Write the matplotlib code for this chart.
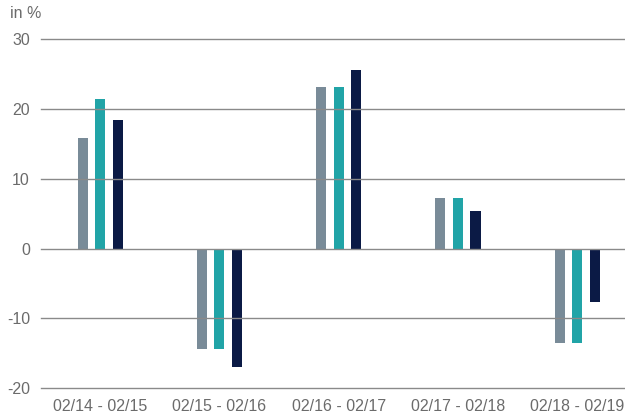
import numpy as np
import matplotlib
matplotlib.use('Agg')
import matplotlib.pyplot as plt

# --- dados ---
periodos = ['02/14 - 02/15', '02/15 - 02/16', '02/16 - 02/17', '02/17 - 02/18', '02/18 - 02/19']
serie_cinza = [15.8, -14.4, 23.2, 7.3, -13.5]
serie_turquesa = [21.4, -14.4, 23.2, 7.3, -13.5]
serie_azul = [18.4, -16.9, 25.5, 5.4, -7.7]
y_ticks = [-20, -10, 0, 10, 20, 30]

cores = ['#798b98', '#21a4a7', '#0b1a45']
texto_cor = '#6b6b6b'

plt.rcParams['font.family'] = ['Liberation Sans', 'DejaVu Sans']
plt.rcParams['axes.unicode_minus'] = False

fig = plt.figure(figsize=(6.25, 4.19), dpi=100)
ax = fig.add_axes([41 / 625, 1 - 388.3 / 419, 1 - 41 / 625, (388.3 - 39) / 419])

x = np.arange(len(periodos))
desloc = 0.147
largura = 0.084
for i, (serie, cor) in enumerate(zip([serie_cinza, serie_turquesa, serie_azul], cores)):
    ax.bar(x + (i - 1) * desloc, serie, width=largura, color=cor, zorder=2)

ax.set_ylim(-20, 30)
ax.set_xlim(-0.495, 4.4)
ax.set_yticks(y_ticks)
ax.set_xticks(x)
ax.set_xticklabels(periodos)

ax.grid(axis='y', color='#8a8a8a', linewidth=1.0, zorder=3)
ax.set_axisbelow(False)
ax.grid(axis='x', visible=False)
for linha in ax.get_ygridlines():
    linha.set_clip_on(False)
for s in ax.spines.values():
    s.set_visible(False)
ax.tick_params(axis='both', length=0, labelsize=11.5, colors=texto_cor)
ax.tick_params(axis='y', pad=8)
ax.tick_params(axis='x', pad=8)

fig.text(10 / 625, 1 - 14 / 419, 'in %', fontsize=11.5, color=texto_cor, ha='left', va='center')

fig.savefig('out.png', dpi=100)
